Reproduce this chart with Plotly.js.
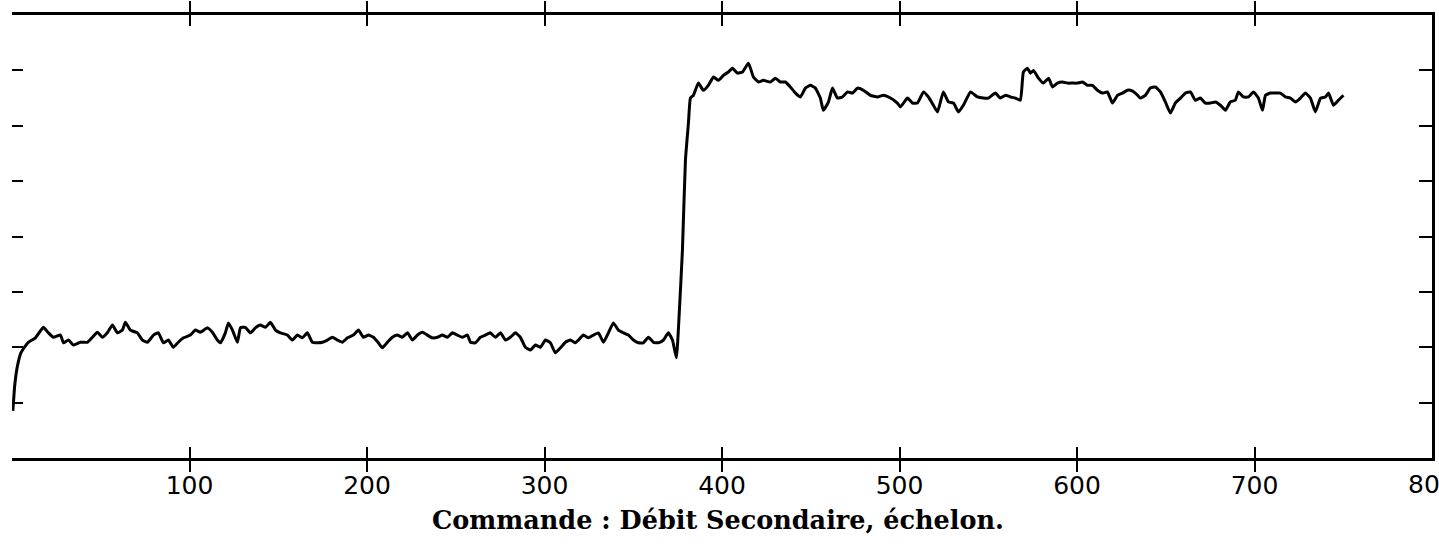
<!DOCTYPE html>
<html>
<head>
<meta charset="utf-8">
<script src="https://cdn.plot.ly/plotly-3.0.1.min.js"></script>
<style>html,body{margin:0;padding:0;background:#fff;}#chart{width:1439px;height:544px;}</style>
</head>
<body>
<div id="chart"></div>
<script>
// Time axis (x) and measured response (y, arbitrary units 0..8)
const timeValues = [0.5,1.5,3,5,7,9.2,13.2,17.7,20.5,23.3,27.3,29.0,31.8,34.6,38.5,42.5,45.3,48.1,50.9,53.7,56.6,59.4,62.2,63.9,66.7,70.6,73.5,76.3,79.7,82.5,85.3,88.1,90.9,93.7,96.6,100.5,103.3,106.1,110.1,112.9,115.7,117.4,120.2,121.9,124.2,127.0,128.7,131.5,134.3,137.1,139.9,142.8,145.6,148.4,151.2,155.1,158.0,160.8,163.6,166.4,169.2,172.1,174.9,177.7,180.5,183.3,186.1,189.0,192.3,195.2,198.0,200.8,203.6,206.4,208.7,211.5,214.3,217.1,219.9,222.8,225.6,228.4,231.2,234.0,236.8,239.7,242.5,245.3,248.1,250.9,253.7,256.6,258.3,261.1,263.9,266.7,269.5,272.3,275.2,278.0,280.8,283.6,286.4,289.2,292.1,294.9,297.7,300.5,303.3,306.1,309.0,311.8,314.6,317.4,319.1,321.9,324.7,327.6,330.4,333.2,336.0,338.8,341.6,344.5,347.3,350.1,352.9,355.7,358.5,361.4,364.2,367.0,369.8,372.1,374.3,376.0,377.7,379.4,381.1,382.2,383.9,386.7,389.5,392.3,395.2,398.0,400.8,403.6,405.9,408.7,411.5,414.9,417.7,420.5,423.3,427.3,430.1,432.9,435.7,438.5,441.4,444.2,447.0,449.8,452.6,455.4,457.1,460.0,462.2,465.0,467.8,470.7,473.5,476.3,479.7,483.6,487.6,490.9,494.9,498.8,500.5,504.5,507.3,510.1,513.5,516.3,519.1,521.4,524.7,527.6,530.4,533.2,536.0,540.0,543.9,547.3,550.1,554.0,556.8,559.7,562.5,565.3,568.1,569.8,572.1,573.8,575.5,578.3,581.1,584.0,586.2,589.0,591.8,594.6,597.4,600.2,603.1,605.9,608.7,611.5,614.3,617.1,620.0,622.8,625.6,628.4,630.1,632.9,635.7,638.5,641.3,644.2,647.0,649.8,652.6,655.4,658.3,661.1,663.9,666.7,669.5,672.3,675.2,678.0,680.8,683.6,686.4,689.2,690.9,693.7,696.6,699.4,702.2,704.5,706.2,709.0,711.8,714.6,717.4,720.2,723.1,725.9,728.7,731.5,734.3,737.2,740.0,741.7,744.5,747.3,750.1];
const responseValues = [0.85,1.3,1.65,1.9,2.0,2.09,2.17,2.36,2.26,2.18,2.22,2.08,2.13,2.04,2.09,2.09,2.18,2.27,2.18,2.26,2.40,2.26,2.31,2.45,2.31,2.26,2.13,2.09,2.22,2.26,2.08,2.13,2.00,2.09,2.17,2.22,2.31,2.27,2.35,2.27,2.13,2.08,2.26,2.44,2.31,2.09,2.35,2.36,2.26,2.35,2.40,2.36,2.45,2.31,2.26,2.22,2.13,2.22,2.17,2.26,2.09,2.08,2.09,2.13,2.18,2.13,2.09,2.17,2.22,2.31,2.18,2.22,2.18,2.08,1.99,2.09,2.18,2.22,2.18,2.26,2.13,2.22,2.27,2.22,2.17,2.18,2.22,2.18,2.26,2.22,2.18,2.22,2.09,2.08,2.18,2.22,2.26,2.18,2.26,2.13,2.18,2.26,2.18,2.00,1.95,2.04,2.00,2.13,2.08,1.90,1.99,2.09,2.13,2.08,2.13,2.22,2.17,2.22,2.26,2.09,2.26,2.44,2.31,2.26,2.22,2.13,2.08,2.08,2.18,2.09,2.08,2.13,2.26,2.13,1.81,2.67,3.75,5.38,6.05,6.50,6.55,6.77,6.64,6.73,6.88,6.82,6.91,6.97,7.04,6.95,6.97,7.13,6.88,6.79,6.82,6.79,6.86,6.79,6.79,6.70,6.59,6.52,6.68,6.73,6.68,6.50,6.28,6.43,6.68,6.50,6.52,6.61,6.59,6.68,6.64,6.55,6.52,6.55,6.50,6.41,6.34,6.50,6.41,6.41,6.61,6.52,6.37,6.25,6.61,6.43,6.41,6.25,6.37,6.61,6.52,6.50,6.50,6.59,6.50,6.55,6.52,6.50,6.46,6.97,7.04,6.95,7.00,6.86,6.77,6.86,6.70,6.77,6.79,6.77,6.77,6.77,6.79,6.73,6.73,6.64,6.59,6.61,6.41,6.55,6.59,6.64,6.64,6.59,6.50,6.55,6.68,6.70,6.61,6.43,6.23,6.41,6.50,6.59,6.61,6.46,6.50,6.41,6.41,6.43,6.37,6.28,6.43,6.46,6.61,6.52,6.52,6.61,6.50,6.28,6.55,6.59,6.59,6.59,6.52,6.50,6.43,6.50,6.59,6.50,6.25,6.50,6.52,6.59,6.37,6.46,6.55];
const xTickValues = [100,200,300,400,500,600,700,800];
const xTickLabels = ['100','200','300','400','500','600','700',''];
const edgeTickValue = 800;
const edgeTickLabel = '800';
const yTickValues = [1,2,3,4,5,6,7];
const xLabel = 'Commande : Débit Secondaire, échelon.';

const tickFont = {family: 'DejaVu Sans', size: 25, color: '#000'};

const trace = {
  x: timeValues, y: responseValues, type: 'scatter', mode: 'lines',
  line: {color: '#000', width: 3, shape: 'spline', smoothing: 0.4},
  hoverinfo: 'skip', showlegend: false
};
const trace2 = {x: [0], y: [0], yaxis: 'y2', mode: 'markers', marker: {opacity: 0}, showlegend: false, hoverinfo: 'skip'};

const layout = {
  width: 1439, height: 544,
  margin: {l: 12, r: 7, t: 15, b: 86},
  paper_bgcolor: '#fff', plot_bgcolor: '#fff',
  xaxis: {
    range: [0, 800], tickvals: xTickValues, ticktext: xTickLabels,
    ticks: 'inside', ticklen: 11, tickwidth: 2, tickcolor: '#000',
    showline: true, linewidth: 3, linecolor: '#000', mirror: 'allticks',
    showgrid: false, zeroline: false, ticklabelstandoff: 3,
    tickfont: tickFont
  },
  yaxis: {
    range: [0, 8], tickvals: yTickValues, ticks: 'inside', ticklen: 11, tickwidth: 2,
    tickcolor: '#000', showticklabels: false, showline: false, showgrid: false, zeroline: false
  },
  yaxis2: {
    range: [0, 8], overlaying: 'y', side: 'right', tickvals: yTickValues,
    ticks: 'inside', ticklen: 13, tickwidth: 2, tickcolor: '#000',
    showticklabels: false, showline: true, linewidth: 2.5, linecolor: '#000',
    showgrid: false, zeroline: false
  },
  annotations: [{
    text: '<b>' + xLabel + '</b>', xref: 'paper', yref: 'paper', x: 0.497, y: -0.14,
    xanchor: 'center', yanchor: 'middle', showarrow: false,
    font: {family: 'DejaVu Serif', size: 25.5, color: '#000'}
  }, {
    text: edgeTickLabel, xref: 'x', yref: 'paper', x: edgeTickValue, y: -0.06,
    xanchor: 'center', yanchor: 'middle', showarrow: false, font: tickFont
  }]
};

Plotly.newPlot('chart', [trace, trace2], layout, {displayModeBar: false, staticPlot: true});
</script>
</body>
</html>
